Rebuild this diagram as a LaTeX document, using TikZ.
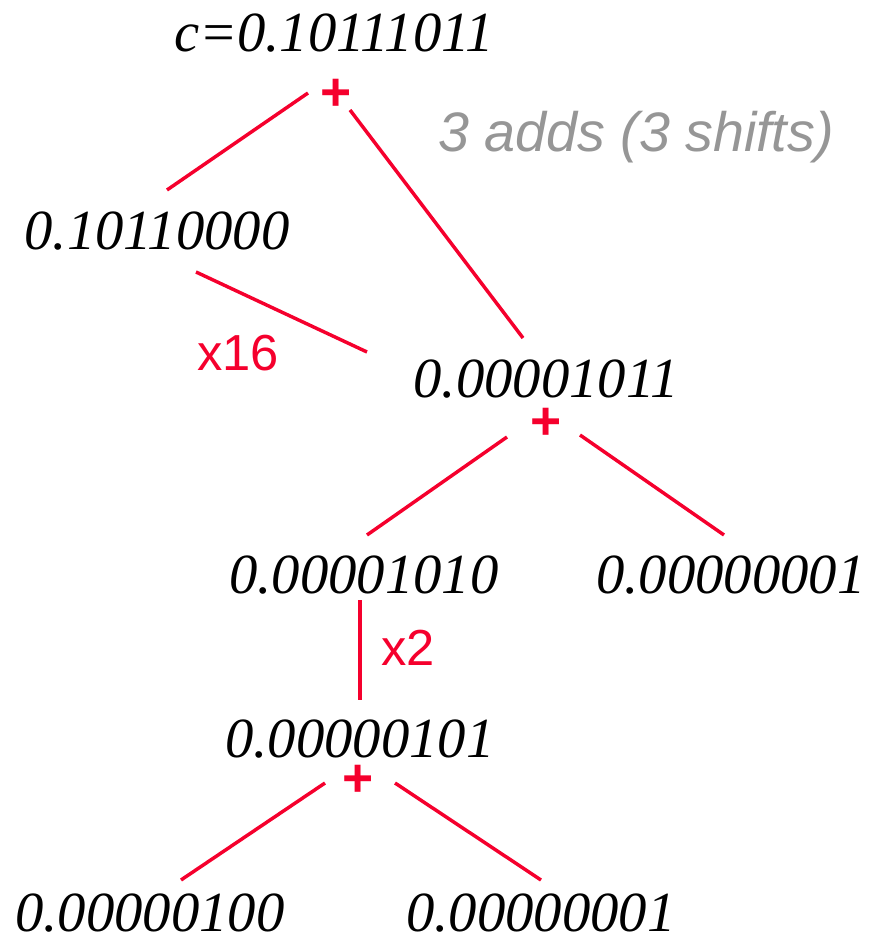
\documentclass[tikz,border=0pt]{standalone}
\usepackage{fontspec}
\setmainfont{Liberation Serif}
\newfontfamily\arialfont{Liberation Sans}
\definecolor{addred}{RGB}{245,0,45}
\definecolor{notegray}{RGB}{150,150,150}

\begin{document}
\begin{tikzpicture}[x=0.75pt,y=-0.75pt,
    num/.style={anchor=base,inner sep=0pt,font=\fontsize{42.5}{44}\selectfont\itshape},
    op/.style={anchor=base,inner sep=0pt,text=addred,font=\arialfont\fontsize{38}{40}\selectfont},
    edge/.style={color=addred,line width=2.6pt}]
  \useasboundingbox (0,0) rectangle (881,937);
  % numbers of the tree
  \node [num] (c) at (334,52) {c=0.10111011};
  \node [num] (hi) at (157,250) {0.10110000};
  \node [num] (mid) at (546,397) {0.00001011};
  \node [num] (midl) at (364,593) {0.00001010};
  \node [num] (midr) at (731,593) {0.00000001};
  \node [num] (low) at (360,757) {0.00000101};
  \node [num] (lowl) at (150,931) {0.00000100};
  \node [num] (lowr) at (541,931) {0.00000001};
  % adds and shifts
  \node [op,font=\arialfont\bfseries\fontsize{40}{42}\selectfont] (add1) at (336,111) {+};
  \node [op,font=\arialfont\bfseries\fontsize{40}{42}\selectfont] (add2) at (546,439) {+};
  \node [op,font=\arialfont\bfseries\fontsize{40}{42}\selectfont] (add3) at (358,796) {+};
  \node [op] (mul16) at (238,370) {x16};
  \node [op] (mul2) at (408,665) {x2};
  \node [anchor=base,inner sep=0pt,text=notegray,font=\arialfont\itshape\fontsize{41.7}{43}\selectfont]
    (note) at (636,152) {3 adds (3 shifts)};
  % ends of the connectors
  \coordinate (a1l) at (308,93);
  \coordinate (a1r) at (350,110);
  \coordinate (hil) at (167,190);
  \coordinate (hir) at (196,272);
  \coordinate (midt) at (523,338);
  \coordinate (s16) at (367,352);
  \coordinate (a2l) at (507,437);
  \coordinate (a2r) at (580,435);
  \coordinate (mll) at (367,535);
  \coordinate (mrr) at (724,535);
  \coordinate (mlb) at (360,600);
  \coordinate (lowt) at (360,700);
  \coordinate (a3l) at (325,783);
  \coordinate (a3r) at (395,783);
  \coordinate (llt) at (181,880);
  \coordinate (lrt) at (541,880);
  \draw [edge] (a1l) -- (hil);
  \draw [edge] (a1r) -- (midt);
  \draw [edge] (hir) -- (s16);
  \draw [edge] (a2l) -- (mll);
  \draw [edge] (a2r) -- (mrr);
  \draw [edge] (mlb) -- (lowt);
  \draw [edge] (a3l) -- (llt);
  \draw [edge] (a3r) -- (lrt);
\end{tikzpicture}
\end{document}
